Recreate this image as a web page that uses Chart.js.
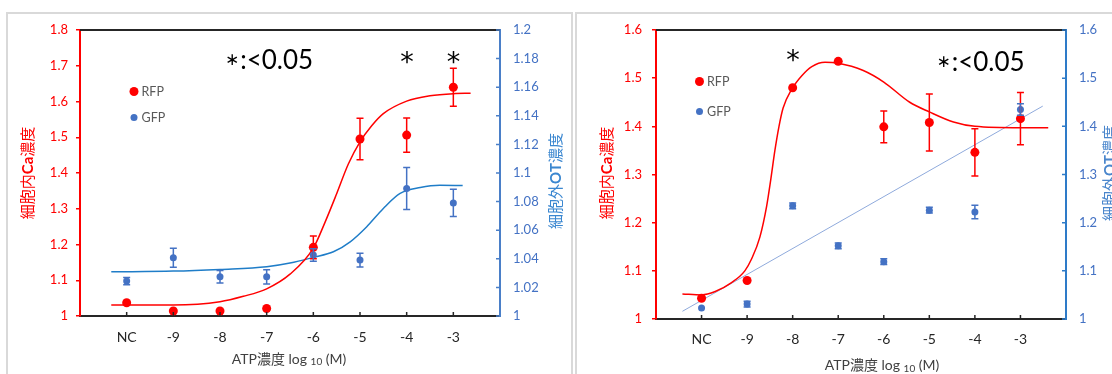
<!DOCTYPE html>
<html>
<head>
<meta charset="utf-8">
<script src="https://cdn.jsdelivr.net/npm/chart.js@4"></script>
<style>
  html, body { margin: 0; padding: 0; background: #fff; overflow: hidden; }
  #wrap { position: relative; width: 1112px; height: 374px; }
  .panel { position: absolute; top: 12px; height: 400px; border: 2px solid #d9d9d9; box-sizing: border-box; }
  canvas { position: absolute; top: 0; }
</style>
</head>
<body>
<div id="wrap">
  <div class="panel" style="left:6px;width:567px"></div>
  <div class="panel" style="left:575px;width:560px"></div>
  <canvas id="chart-left" width="574" height="374" style="left:0"></canvas>
  <canvas id="chart-right" width="538" height="374" style="left:574px"></canvas>
</div>
<script>
// ATP dose response: RFP (intracellular Ca, left axis) and GFP (extracellular OT, right axis)

const doses = ['NC', '-9', '-8', '-7', '-6', '-5', '-4', '-3'];

// ----- left panel -----
const rfpA    = [1.037, 1.014, 1.014, 1.021, 1.192, 1.495, 1.506, 1.640];
const rfpAErr = [0, 0, 0, 0, 0.032, 0.058, 0.048, 0.053];
const gfpA    = [1.0244, 1.0407, 1.0274, 1.0274, 1.0426, 1.0391, 1.0891, 1.0791];
const gfpAErr = [0.0025, 0.0066, 0.0044, 0.005, 0.0044, 0.0048, 0.0147, 0.0096];
// fitted curves (x in dose slots, NC = 1)
const rfpFitAX = [0.67, 1, 2, 3, 3.5, 4, 4.5, 5, 5.25, 5.5, 5.75, 6, 6.25, 6.5, 7, 7.5, 8, 8.37];
const rfpFitAY = [1.031, 1.031, 1.031, 1.040, 1.055, 1.076, 1.117, 1.190, 1.262, 1.342, 1.425, 1.487, 1.532, 1.566, 1.601, 1.616, 1.622, 1.623];
const gfpFitAX = [0.67, 2, 3, 4, 4.5, 5, 5.43, 5.79, 6.14, 6.5, 6.86, 7.29, 7.71, 8.2];
const gfpFitAY = [1.0309, 1.0314, 1.0326, 1.0344, 1.0370, 1.0410, 1.0449, 1.0519, 1.0623, 1.0752, 1.0857, 1.0898, 1.0914, 1.0912];
const caTicksA = [1, 1.1, 1.2, 1.3, 1.4, 1.5, 1.6, 1.7, 1.8];
const otTicksA = [1, 1.02, 1.04, 1.06, 1.08, 1.1, 1.12, 1.14, 1.16, 1.18, 1.2];
const starsA   = [7, 8];

// ----- right panel -----
const rfpB    = [1.043, 1.080, 1.480, 1.535, 1.399, 1.408, 1.346, 1.416];
const rfpBErr = [0, 0, 0, 0, 0.033, 0.059, 0.049, 0.054];
const gfpB    = [1.023, 1.031, 1.235, 1.152, 1.119, 1.226, 1.222, 1.435];
const gfpBErr = [0, 0.006, 0.006, 0.006, 0.006, 0.006, 0.014, 0.012];
const rfpFitBX = [0.58, 1.0, 1.3, 1.65, 1.95, 2.1, 2.28, 2.43, 2.52, 2.61, 2.7, 2.79, 2.98, 3.2, 3.42, 3.71, 4.0, 4.55, 5.0, 5.57, 6.0, 6.53, 7.0, 8.0, 8.61];
const rfpFitBY = [1.052, 1.050, 1.057, 1.075, 1.100, 1.125, 1.170, 1.235, 1.290, 1.350, 1.400, 1.438, 1.477, 1.505, 1.524, 1.533, 1.531, 1.516, 1.492, 1.450, 1.430, 1.409, 1.400, 1.397, 1.397];
const gfpTrendBX = [0.58, 8.49];
const gfpTrendBY = [1.016, 1.442];
const caTicksB = [1, 1.1, 1.2, 1.3, 1.4, 1.5, 1.6];
const otTicksB = [1, 1.1, 1.2, 1.3, 1.4, 1.5, 1.6];
const starsB   = [3];

const RED = '#ff0000';
const BLUE = '#4472c4';
const FAMILY = 'Lato, "Noto Sans CJK JP", sans-serif';
const STAR_FAMILY = '"DejaVu Sans", sans-serif';

function font(size, bold, family) {
  return (bold ? 'bold ' : '') + size + 'px ' + (family || FAMILY);
}
function points(vals) {
  return vals.map((v, i) => ({ x: i + 1, y: v }));
}
function curve(xs, ys) {
  return xs.map((x, i) => ({ x, y: ys[i] }));
}
function fmt(v) {
  return String(+v.toFixed(2));
}

// text made of runs (bold / subscript / other font), centred on (x, y), optionally rotated
function drawRuns(ctx, runs, x, y, rotate, color) {
  ctx.save();
  ctx.translate(x, y);
  if (rotate) ctx.rotate(-Math.PI / 2);
  ctx.textBaseline = 'middle';
  ctx.textAlign = 'left';
  ctx.fillStyle = color;
  let total = 0;
  const widths = runs.map(r => {
    ctx.font = font(r.size, r.bold, r.family);
    const w = ctx.measureText(r.t).width + (r.gap || 0);
    total += w;
    return w;
  });
  let cx = -total / 2;
  runs.forEach((r, i) => {
    ctx.font = font(r.size, r.bold, r.family);
    ctx.fillText(r.t, cx, r.dy || 0);
    cx += widths[i];
  });
  ctx.restore();
}

// glyph box centred on (cx, cy)
function drawBoxed(ctx, text, cx, cy, f, color) {
  ctx.save();
  ctx.font = f;
  ctx.fillStyle = color;
  ctx.textAlign = 'left';
  ctx.textBaseline = 'alphabetic';
  const m = ctx.measureText(text);
  const w = m.actualBoundingBoxLeft + m.actualBoundingBoxRight;
  const h = m.actualBoundingBoxAscent + m.actualBoundingBoxDescent;
  ctx.fillText(text, cx - w / 2 + m.actualBoundingBoxLeft, cy - h / 2 + m.actualBoundingBoxAscent);
  ctx.restore();
}

const decorPlugin = {
  id: 'decor',
  afterDatasetsDraw(chart, args, o) {
    const ctx = chart.ctx;
    const { x, y, y2 } = chart.scales;
    const area = chart.chartArea;

    // error bars
    chart.data.datasets.forEach(ds => {
      if (!ds.errors) return;
      const ys = chart.scales[ds.yAxisID];
      ctx.save();
      ctx.strokeStyle = ds.backgroundColor;
      ctx.lineWidth = 1.5;
      ds.data.forEach((p, j) => {
        const e = ds.errors[j];
        if (!e) return;
        const px = x.getPixelForValue(p.x);
        const top = ys.getPixelForValue(p.y + e);
        const bot = ys.getPixelForValue(p.y - e);
        ctx.beginPath();
        ctx.moveTo(px, top); ctx.lineTo(px, bot);
        ctx.moveTo(px - 3.5, top); ctx.lineTo(px + 3.5, top);
        ctx.moveTo(px - 3.5, bot); ctx.lineTo(px + 3.5, bot);
        ctx.stroke();
      });
      ctx.restore();
    });

    ctx.save();
    // top frame line
    ctx.strokeStyle = '#262626';
    ctx.lineWidth = 2;
    ctx.beginPath();
    ctx.moveTo(area.left, area.top);
    ctx.lineTo(area.right, area.top);
    ctx.stroke();
    // inner tick marks on the category axis
    ctx.lineWidth = 1.5;
    ctx.beginPath();
    x.ticks.forEach(t => {
      const px = x.getPixelForValue(t.value);
      ctx.moveTo(px, area.bottom);
      ctx.lineTo(px, area.bottom - 4);
    });
    ctx.stroke();
    // inner tick marks on the right axis
    ctx.strokeStyle = o.rightAxisColor;
    ctx.beginPath();
    y2.ticks.forEach(t => {
      const py = y2.getPixelForValue(t.value);
      ctx.moveTo(area.right, py);
      ctx.lineTo(area.right - 4, py);
    });
    ctx.stroke();
    ctx.restore();

    // legend
    o.legend.forEach(l => {
      ctx.save();
      ctx.fillStyle = l.color;
      ctx.beginPath();
      ctx.arc(l.x, l.y, l.r, 0, Math.PI * 2);
      ctx.fill();
      ctx.fillStyle = '#595959';
      ctx.font = font(12.5);
      ctx.textBaseline = 'middle';
      ctx.fillText(l.text, l.x + 7.5, l.y);
      ctx.restore();
    });

    // significance marks
    o.stars.forEach(s => {
      drawBoxed(ctx, '*', x.getPixelForValue(s), o.starY, font(27, false, STAR_FAMILY), '#000');
    });
    drawRuns(ctx, [{ t: '\u2217', size: 17, family: STAR_FAMILY, gap: 1 }, { t: ':<0.05', size: 26 }],
      o.note.x, o.note.y, false, '#000');

    // axis titles
    drawRuns(ctx, [{ t: '細胞内', size: 15 }, { t: 'Ca', size: 15, bold: true }, { t: '濃度', size: 15 }],
      o.leftTitle.x, o.leftTitle.y, true, RED);
    drawRuns(ctx, [{ t: '細胞外', size: 15 }, { t: 'OT', size: 15, bold: true }, { t: '濃度', size: 15 }],
      o.rightTitle.x, o.rightTitle.y, true, o.rightTitleColor);
    drawRuns(ctx, [{ t: 'ATP濃度 log ', size: 14 }, { t: '10', size: 10, dy: 3 }, { t: ' (M)', size: 14 }],
      o.xTitle.x, o.xTitle.y, false, '#404040');
  }
};

function buildChart(id, cfg) {
  const fitDatasets = cfg.fits.map(f => ({
    data: curve(f.xs, f.ys),
    yAxisID: f.axis,
    showLine: true,
    pointRadius: 0,
    borderColor: f.color,
    borderWidth: f.width,
    cubicInterpolationMode: 'monotone'
  }));
  return new Chart(document.getElementById(id), {
    type: 'scatter',
    data: {
      datasets: [
        { label: 'RFP', data: points(cfg.rfp), errors: cfg.rfpErr, yAxisID: 'y',
          pointRadius: 4.5, backgroundColor: RED, borderColor: RED, borderWidth: 0 },
        { label: 'GFP', data: points(cfg.gfp), errors: cfg.gfpErr, yAxisID: 'y2',
          pointRadius: 3.5, backgroundColor: BLUE, borderColor: BLUE, borderWidth: 0 },
        ...fitDatasets
      ]
    },
    plugins: [decorPlugin],
    options: {
      responsive: false,
      devicePixelRatio: 1,
      animation: false,
      events: [],
      layout: { padding: { top: cfg.top, left: 0, right: 0, bottom: 0 } },
      plugins: {
        legend: { display: false },
        tooltip: { enabled: false },
        decor: cfg.decor
      },
      scales: {
        x: {
          type: 'linear', min: 0, max: 9,
          afterBuildTicks: s => { s.ticks = doses.map((d, i) => ({ value: i + 1 })); },
          afterFit: s => { s.height = cfg.bottomH; },
          ticks: { callback: v => doses[v - 1], color: '#262626', font: { family: FAMILY, size: 14 },
                   padding: cfg.xPad, autoSkip: false, maxRotation: 0 },
          grid: { display: false, drawTicks: false },
          border: { color: '#262626', width: 2 }
        },
        y: {
          position: 'left', min: cfg.caTicks[0], max: cfg.caTicks[cfg.caTicks.length - 1],
          afterBuildTicks: s => { s.ticks = cfg.caTicks.map(v => ({ value: v })); },
          afterFit: s => { s.width = cfg.leftW; },
          ticks: { callback: fmt, color: RED, font: { family: FAMILY, size: 13 }, padding: cfg.leftPad },
          grid: { display: true, drawOnChartArea: false, drawTicks: true, tickLength: 4, color: RED, lineWidth: 1.5 },
          border: { color: RED, width: 2 }
        },
        y2: {
          position: 'right', min: cfg.otTicks[0], max: cfg.otTicks[cfg.otTicks.length - 1],
          afterBuildTicks: s => { s.ticks = cfg.otTicks.map(v => ({ value: v })); },
          afterFit: s => { s.width = cfg.rightW; },
          ticks: { callback: fmt, color: BLUE, font: { family: FAMILY, size: 13 }, padding: 13 },
          grid: { display: false, drawTicks: false },
          border: { color: cfg.decor.rightAxisColor, width: 2 }
        }
      }
    }
  });
}

buildChart('chart-left', {
  rfp: rfpA, rfpErr: rfpAErr, gfp: gfpA, gfpErr: gfpAErr,
  caTicks: caTicksA, otTicks: otTicksA,
  fits: [
    { xs: rfpFitAX, ys: rfpFitAY, axis: 'y', color: RED, width: 1.5 },
    { xs: gfpFitAX, ys: gfpFitAY, axis: 'y2', color: '#1f7dc8', width: 1.5 }
  ],
  top: 30, leftW: 80, rightW: 74, bottomH: 58, xPad: 13, leftPad: 8,
  decor: {
    rightAxisColor: '#4a7fc8',
    rightTitleColor: '#3b87d0',
    legend: [
      { text: 'RFP', color: RED, x: 134, y: 91.5, r: 4.5 },
      { text: 'GFP', color: BLUE, x: 134, y: 117.5, r: 3.5 }
    ],
    stars: starsA, starY: 57,
    note: { x: 269, y: 61 },
    leftTitle: { x: 28, y: 173 },
    rightTitle: { x: 556, y: 181 },
    xTitle: { x: 289, y: 359 }
  }
});

buildChart('chart-right', {
  rfp: rfpB, rfpErr: rfpBErr, gfp: gfpB, gfpErr: gfpBErr,
  caTicks: caTicksB, otTicks: otTicksB,
  fits: [
    { xs: rfpFitBX, ys: rfpFitBY, axis: 'y', color: RED, width: 1.5 },
    { xs: gfpTrendBX, ys: gfpTrendBY, axis: 'y2', color: '#8faadc', width: 1 }
  ],
  top: 30, leftW: 82, rightW: 46, bottomH: 55, xPad: 12, leftPad: 10,
  decor: {
    rightAxisColor: '#2e7bc8',
    rightTitleColor: '#4a86cc',
    legend: [
      { text: 'RFP', color: RED, x: 125.5, y: 81.5, r: 4.5 },
      { text: 'GFP', color: BLUE, x: 125.5, y: 111.5, r: 3.5 }
    ],
    stars: starsB, starY: 55,
    note: { x: 406.5, y: 63 },
    leftTitle: { x: 33, y: 173 },
    rightTitle: { x: 536, y: 173 },
    xTitle: { x: 308, y: 365.5 }
  }
});
</script>
</body>
</html>
